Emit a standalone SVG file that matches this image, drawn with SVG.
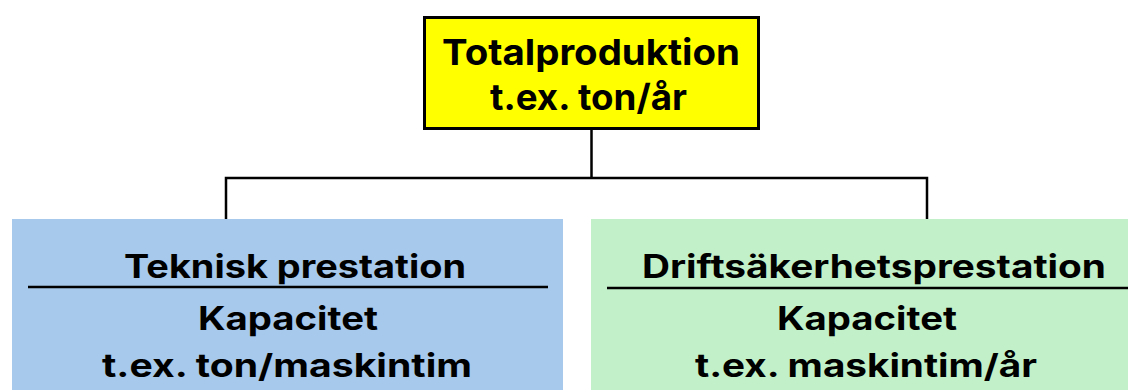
<svg xmlns="http://www.w3.org/2000/svg" width="1128" height="390" viewBox="0 0 1128 390">
  <style>
    text { font-family: Inter, "Liberation Sans", Arial, sans-serif; font-weight: 700; fill: #000; text-anchor: middle; }
    .top { font-size: 36px; }
    .sub { font-size: 32px; }
    .wire { fill: none; stroke: #000; stroke-width: 2.5; }
    .rule { stroke: #000; stroke-width: 2.5; }
  </style>

  <!-- tree connectors -->
  <g id="connectors">
    <path class="wire" d="M591.5 130 V178 M226 219 V178 H927 V219"/>
  </g>

  <!-- root: total production -->
  <g id="node-total">
    <rect x="424.5" y="17.5" width="334" height="111" fill="#FFFF00" stroke="#000" stroke-width="3"/>
    <text class="top" x="591" y="65" textLength="298" lengthAdjust="spacingAndGlyphs">Totalproduktion</text>
    <text class="top" x="588.5" y="110" textLength="197" lengthAdjust="spacingAndGlyphs">t.ex. ton/år</text>
  </g>

  <!-- left child: technical performance -->
  <g id="node-teknisk">
    <rect x="12" y="219" width="551" height="175" fill="#A7C9EB"/>
    <text class="sub" x="295" y="278" textLength="342" lengthAdjust="spacingAndGlyphs">Teknisk prestation</text>
    <line class="rule" x1="28" y1="287" x2="548" y2="287"/>
    <text class="sub" x="288" y="330" textLength="180" lengthAdjust="spacingAndGlyphs">Kapacitet</text>
    <text class="sub" x="287" y="377" textLength="370" lengthAdjust="spacingAndGlyphs">t.ex. ton/maskintim</text>
  </g>

  <!-- right child: operational reliability -->
  <g id="node-drift">
    <rect x="591" y="219" width="540" height="175" fill="#C2F0C8"/>
    <text class="sub" x="874" y="278" textLength="464" lengthAdjust="spacingAndGlyphs">Driftsäkerhetsprestation</text>
    <line class="rule" x1="607" y1="288" x2="1128" y2="288"/>
    <text class="sub" x="867" y="330" textLength="180" lengthAdjust="spacingAndGlyphs">Kapacitet</text>
    <text class="sub" x="866" y="377" textLength="342" lengthAdjust="spacingAndGlyphs">t.ex. maskintim/år</text>
  </g>
</svg>
